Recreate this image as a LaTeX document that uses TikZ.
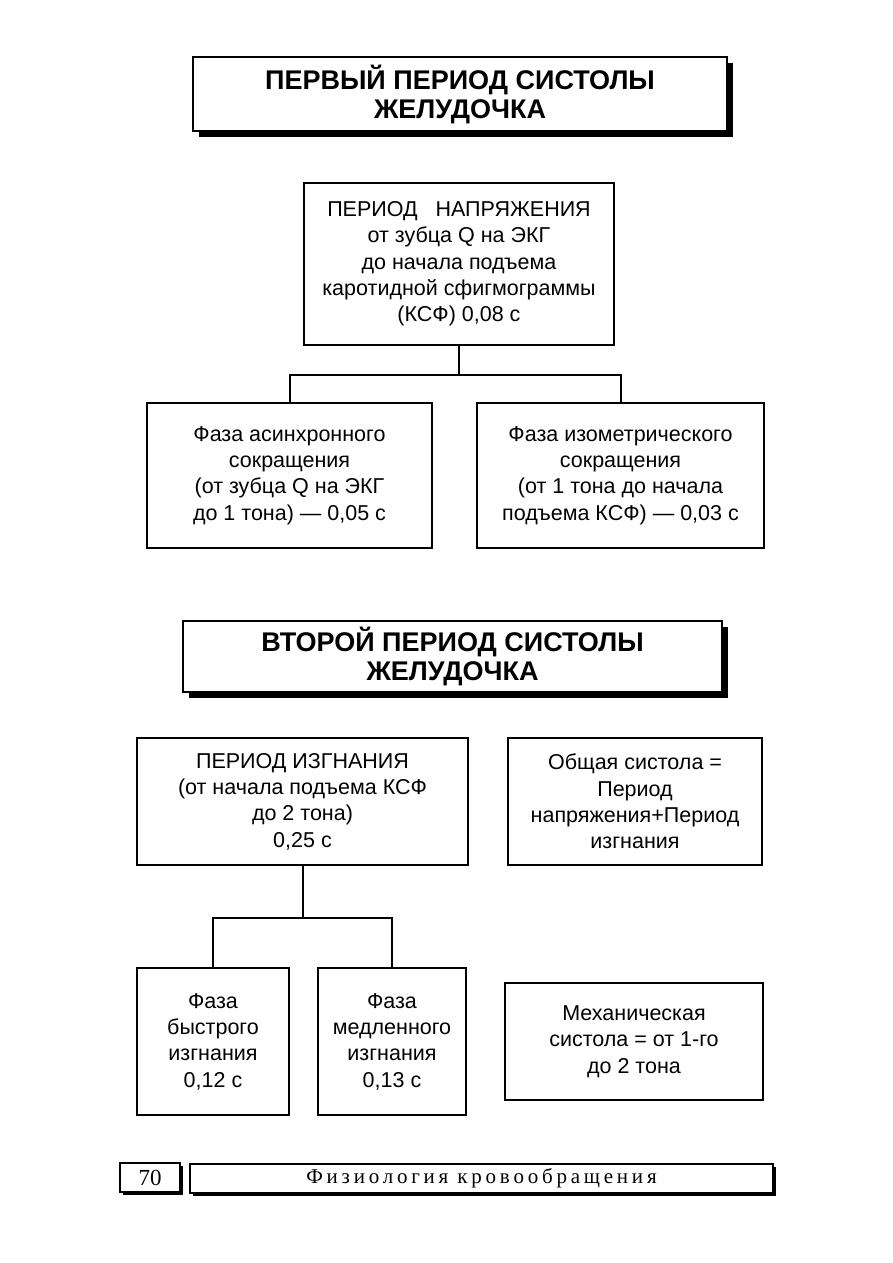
\documentclass[tikz,border=0pt]{standalone}
\usepackage{fontspec}
\setmainfont{Liberation Sans}
\newfontfamily\footfont{Liberation Serif}
\newfontfamily\footfontsp[LetterSpace=18]{Liberation Serif}
\usetikzlibrary{positioning,calc,shadows}
\tikzset{
  every node/.style={font=\fontsize{21.5}{26.3}\selectfont},
  blk/.style={draw=black,line width=2pt,fill=white,align=center,inner sep=0pt},
  ttl/.style={blk,line width=2.6pt,font=\fontsize{27}{29}\selectfont\bfseries,
    drop shadow={shadow xshift=6pt,shadow yshift=-6pt,opacity=1,fill=black}},
  foot/.style={blk,line width=1.6pt,
    drop shadow={shadow xshift=2.5pt,shadow yshift=-2.5pt,opacity=1,fill=black}},
  link/.style={line width=2pt},
}

\begin{document}
\begin{tikzpicture}[x=1pt,y=-1pt]
  \useasboundingbox (0,0) rectangle (893,1263);
  % first period
  \node[ttl,minimum width=534,minimum height=74] (title1) at (460,94)
    {ПЕРВЫЙ ПЕРИОД СИСТОЛЫ\\ЖЕЛУДОЧКА};
  \node[blk,minimum width=310,minimum height=162] (tension) at (459,264)
    {ПЕРИОД\ \ \ НАПРЯЖЕНИЯ\\от зубца Q на ЭКГ\\до начала подъема\\каротидной сфигмограммы\\(КСФ) 0,08 с};
  \node[blk,minimum width=285,minimum height=145] (asyn) at (289.5,475.5)
    {Фаза асинхронного\\сокращения\\(от зубца Q на ЭКГ\\до 1 тона) — 0,05 с};
  \node[blk,minimum width=287,minimum height=145] (iso) at (620.5,475.5)
    {Фаза изометрического\\сокращения\\(от 1 тона до начала\\подъема КСФ) — 0,03 с};
  \coordinate (j1) at ($(tension.south)+(0,29)$);
  \draw[link] (tension.south) -- (j1) -| (asyn.north);
  \draw[link] (j1) -| (iso.north);

  % second period
  \node[ttl,minimum width=539,minimum height=71] (title2) at (452.5,656.5)
    {ВТОРОЙ ПЕРИОД СИСТОЛЫ\\ЖЕЛУДОЧКА};
  \node[blk,minimum width=331,minimum height=127] (expel) at (302.5,801.5)
    {ПЕРИОД ИЗГНАНИЯ\\(от начала подъема КСФ\\до 2 тона)\\0,25 с};
  \node[blk,minimum width=254,minimum height=127] (total) at (635,801.5)
    {Общая систола =\\Период\\напряжения+Период\\изгнания};
  \node[blk,minimum width=152,minimum height=147] (fast) at (213,1041.5)
    {Фаза\\быстрого\\изгнания\\0,12 с};
  \node[blk,minimum width=148,minimum height=147] (slow) at (392,1041.5)
    {Фаза\\медленного\\изгнания\\0,13 с};
  \node[blk,minimum width=258,minimum height=117] (mech) at (634,1041.5)
    {Механическая\\систола = от 1-го\\до 2 тона};
  \coordinate (j2) at ($(expel.south)+(0,52)$);
  \draw[link] (expel.south) -- (j2) -| (fast.north);
  \draw[link] (j2) -| (slow.north);

  % footer
  \node[foot,minimum width=60,minimum height=29,font=\footfont\fontsize{23}{24}\selectfont] (page) at (150,1177.5) {70};
  \node[foot,minimum width=583,minimum height=29,font=\footfontsp\fontsize{21}{22}\selectfont] (chapter) at (481.5,1178.5)
    {Физиология кровообращения};
\end{tikzpicture}
\end{document}
